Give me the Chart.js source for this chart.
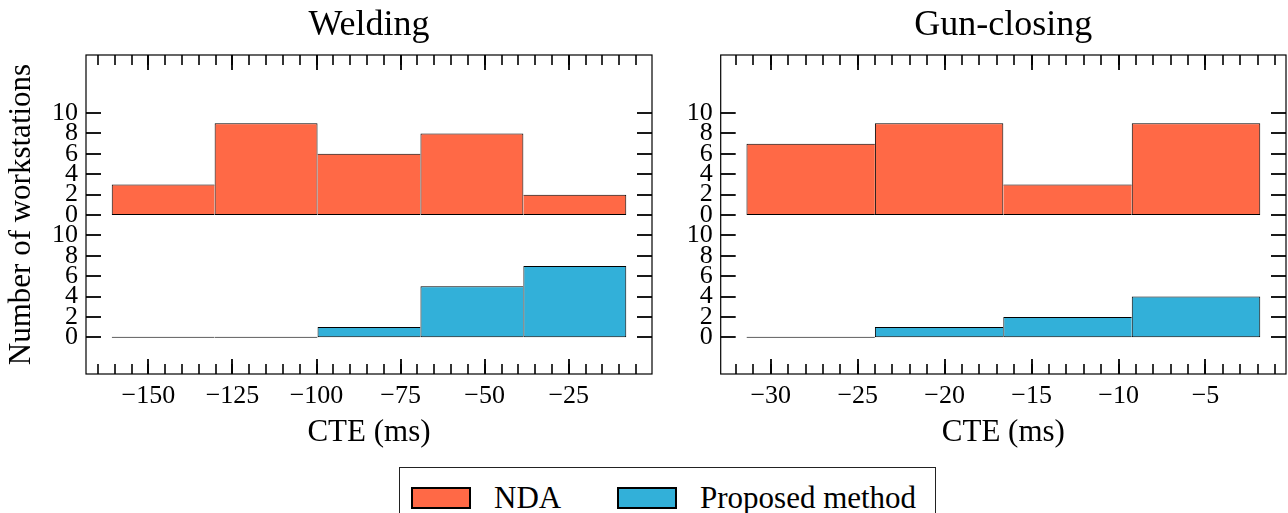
<!DOCTYPE html>
<html>
<head>
<meta charset="utf-8">
<script src="https://cdn.jsdelivr.net/npm/chart.js@4.4.1/dist/chart.umd.min.js"></script>
<style>
  html, body { margin: 0; padding: 0; background: #fff; }
  body { width: 1288px; height: 513px; position: relative; overflow: hidden; font-family: "Liberation Serif", serif; }
  canvas { position: absolute; top: 0; }
  #weld { left: 0; }
  #gun { left: 660px; }
  #legend { position: absolute; left: 399px; top: 467px; width: 537px; height: 70px; border: 1px solid #222; box-sizing: border-box; }
  .item { position: absolute; top: 12px; display: flex; align-items: center; font-size: 31px; color: #000; white-space: nowrap; }
  .swatch { width: 60px; height: 22px; border: 2px solid #000; box-sizing: border-box; margin-right: 23px; }
</style>
</head>
<body>
<canvas id="weld" width="660" height="460"></canvas>
<canvas id="gun" width="628" height="460"></canvas>
<div id="legend"></div>

<script>
/* -------------------- DATA -------------------- */
const SERIES_LABELS = ["NDA", "Proposed method"];
const SERIES_COLORS = ["#ff6946", "#32b0d9"];

// Welding: bin edges (ms) and counts per bin
const WELD_EDGES = [-160.9, -130.3, -99.7, -69.1, -38.5, -7.9];
const WELD_NDA = [3, 9, 6, 8, 2];
const WELD_PROPOSED = [0, 0, 1, 5, 7];
const WELD_XTICKS = [-150, -125, -100, -75, -50, -25];

// Gun-closing
const GUN_EDGES = [-31.4, -24.01, -16.63, -9.24, -1.85];
const GUN_NDA = [7, 9, 3, 9];
const GUN_PROPOSED = [0, 1, 2, 4];
const GUN_XTICKS = [-30, -25, -20, -15, -10, -5];

// both panels share the count axis; NDA histogram sits 12 units above
const Y_TICKS = [0, 2, 4, 6, 8, 10];
const NDA_OFFSET = 12;

const FONT = '"Liberation Serif", "DejaVu Serif", serif';
Chart.defaults.font.family = FONT;
Chart.defaults.color = "#000";

/* -------------------- HELPERS -------------------- */
// taller neighbour draws the shared edge so inner edges stay 1px
function edgeWidths(counts) {
    return counts.map((h, i) => ({
        top: 1,
        bottom: 1,
        left: (i === 0 || h > counts[i - 1]) ? 1 : 0,
        right: (i === counts.length - 1 || h >= counts[i + 1]) ? 1 : 0
    }));
}

function histDataset(label, color, edges, counts, base) {
    const widths = edgeWidths(counts);
    return {
        label: label,
        data: counts.map((c, i) => ({ x: (edges[i] + edges[i + 1]) / 2, y: [base, base + c] })),
        backgroundColor: color,
        borderColor: "#000",
        borderWidth: ctx => widths[ctx.dataIndex],
        borderSkipped: false,
        minBarLength: 1,
        inflateAmount: 0,
        stack: "hist",          // same slot for both series, no side-by-side grouping
        barThickness: "flex",
        barPercentage: 1,
        categoryPercentage: 1
    };
}

const fmt = v => String(v).replace("-", "\u2212");

// inward ticks on all four sides + frame, like the matplotlib original
const insideTicks = {
    id: "insideTicks",
    afterDatasetsDraw(chart, args, opts) {
        const { ctx, chartArea: a, scales: { x, y } } = chart;
        const seg = (x1, y1, x2, y2) => { ctx.beginPath(); ctx.moveTo(x1, y1); ctx.lineTo(x2, y2); ctx.stroke(); };
        ctx.save();
        ctx.strokeStyle = "#000";
        ctx.lineWidth = 1.6;
        for (let v = Math.ceil(x.min / opts.minor) * opts.minor; v <= x.max; v += opts.minor) {
            const px = Math.round(x.getPixelForValue(v));
            seg(px, a.top, px, a.top + 10);
            seg(px, a.bottom, px, a.bottom - 10);
        }
        ctx.lineWidth = 1.8;
        x.ticks.forEach(t => {
            const px = Math.round(x.getPixelForValue(t.value));
            seg(px, a.top, px, a.top + 15);
            seg(px, a.bottom, px, a.bottom - 15);
        });
        y.ticks.forEach(t => {
            const py = Math.round(y.getPixelForValue(t.value));
            seg(a.left, py, a.left + 15, py);
            seg(a.right, py, a.right - 15, py);
        });
        ctx.lineWidth = 1.2;
        ctx.strokeRect(a.left, a.top, a.right - a.left, a.bottom - a.top);
        ctx.restore();
    }
};

function makePanel(id, title, edges, nda, proposed, xmin, xmax, xticks, minor, yWidth, padRight, showYTitle) {
    const yValues = Y_TICKS.concat(Y_TICKS.map(v => v + NDA_OFFSET));
    return new Chart(document.getElementById(id), {
        type: "bar",
        data: {
            datasets: [
                histDataset(SERIES_LABELS[0], SERIES_COLORS[0], edges, nda, NDA_OFFSET),
                histDataset(SERIES_LABELS[1], SERIES_COLORS[1], edges, proposed, 0)
            ]
        },
        plugins: [insideTicks],
        options: {
            responsive: false,
            animation: false,
            devicePixelRatio: 1,
            layout: { padding: { right: padRight } },
            plugins: {
                legend: { display: false },
                tooltip: { enabled: false },
                title: {
                    display: true,
                    text: title,
                    fullSize: false,
                    font: { size: 36, weight: "normal" },
                    padding: { top: 4, bottom: 7.8 }
                },
                insideTicks: { minor: minor }
            },
            scales: {
                x: {
                    type: "linear",
                    min: xmin,
                    max: xmax,
                    offset: false,
                    grid: { display: false, drawTicks: false },
                    border: { display: false },
                    afterBuildTicks: s => { s.ticks = xticks.map(v => ({ value: v })); },
                    afterFit: s => { s.height = 86; },
                    ticks: { autoSkip: false, maxRotation: 0, padding: 7, font: { size: 26 }, callback: v => fmt(v) },
                    title: { display: true, text: "CTE (ms)", font: { size: 31 }, padding: { top: 0, bottom: 9 } }
                },
                y: {
                    min: -3.6,
                    max: 27.7,
                    stacked: false,
                    grid: { display: false, drawTicks: false },
                    border: { display: false },
                    afterBuildTicks: s => { s.ticks = yValues.map(v => ({ value: v })); },
                    afterFit: s => { s.width = yWidth; },
                    ticks: { autoSkip: false, padding: 8, font: { size: 26 }, callback: v => String(v >= NDA_OFFSET ? v - NDA_OFFSET : v) },
                    title: { display: showYTitle, text: "Number of workstations", font: { size: 31 }, padding: { top: 3.4, bottom: 0 } }
                }
            }
        }
    });
}

/* -------------------- CHARTS -------------------- */
makePanel("weld", "Welding", WELD_EDGES, WELD_NDA, WELD_PROPOSED, -168.55, -0.25, WELD_XTICKS, 5, 86, 8, true);
makePanel("gun", "Gun-closing", GUN_EDGES, GUN_NDA, GUN_PROPOSED, -32.88, -0.37, GUN_XTICKS, 1, 60.7, 2, false);

/* -------------------- LEGEND -------------------- */
const legend = document.getElementById("legend");
const ITEM_LEFT = [11, 217];
SERIES_LABELS.forEach((label, i) => {
    const item = document.createElement("div");
    item.className = "item";
    item.style.left = ITEM_LEFT[i] + "px";
    item.innerHTML = `<span class="swatch" style="background:${SERIES_COLORS[i]}"></span><span>${label}</span>`;
    legend.appendChild(item);
});
</script>
</body>
</html>
